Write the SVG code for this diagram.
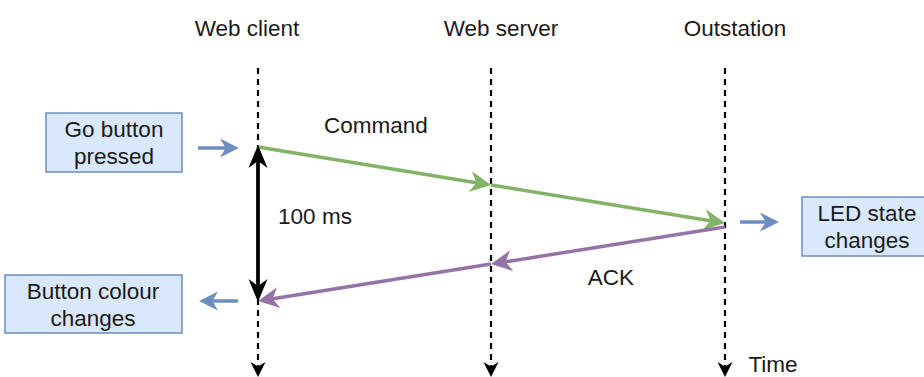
<svg xmlns="http://www.w3.org/2000/svg" width="924" height="377" viewBox="0 0 924 377">
<style>
text{font-family:"Liberation Sans",Arial,sans-serif;font-size:22.5px;fill:#1a1a1a;text-anchor:middle}
.box{fill:#dae8fc;stroke:#6c8ebf;stroke-width:1.5}
.life{stroke:#000;stroke-width:2.2;stroke-dasharray:6 5;fill:none}
.blue{stroke:#6c8ebf;stroke-width:3.5;fill:none}
</style>
<defs>
<path id="ah" d="M0,0 L-10,-5 L-7,0 L-10,5 Z"/>
</defs>
<g id="headers">
<text x="247" y="36">Web client</text>
<text x="501" y="36">Web server</text>
<text x="735" y="36">Outstation</text>
</g>
<g id="connectors">
<line class="life" x1="258" y1="68" x2="258" y2="368"/>
<line class="life" x1="491" y1="68" x2="491" y2="368"/>
<line class="life" x1="725" y1="68" x2="725" y2="368"/>
<use href="#ah" fill="#000" transform="translate(258,377) rotate(90) scale(1.5)"/>
<use href="#ah" fill="#000" transform="translate(491,377) rotate(90) scale(1.5)"/>
<use href="#ah" fill="#000" transform="translate(725,377) rotate(90) scale(1.5)"/>
<line x1="258" y1="147" x2="484" y2="184" stroke="#82b366" stroke-width="3.5"/>
<line x1="491" y1="185" x2="718" y2="222" stroke="#82b366" stroke-width="3.5"/>
<use href="#ah" fill="#82b366" transform="translate(491,185) rotate(9.26) scale(2.1)"/>
<use href="#ah" fill="#82b366" transform="translate(725,223) rotate(9.26) scale(2.1)"/>
<line x1="725" y1="227" x2="498" y2="263" stroke="#9673a6" stroke-width="3.5"/>
<line x1="491" y1="264" x2="265" y2="300" stroke="#9673a6" stroke-width="3.5"/>
<use href="#ah" fill="#9673a6" transform="translate(491,264) rotate(171) scale(2.1)"/>
<use href="#ah" fill="#9673a6" transform="translate(258,301) rotate(171) scale(2.1)"/>
<line x1="258" y1="157" x2="258" y2="290" stroke="#000" stroke-width="3.8"/>
<use href="#ah" fill="#000" transform="translate(258,145) rotate(-90) scale(2.3,1.9)"/>
<use href="#ah" fill="#000" transform="translate(258,302) rotate(90) scale(2.3,1.9)"/>
<line class="blue" x1="198" y1="148" x2="232" y2="148"/>
<use href="#ah" fill="#6c8ebf" transform="translate(239,148) scale(1.9)"/>
<line class="blue" x1="238" y1="301" x2="206" y2="301"/>
<use href="#ah" fill="#6c8ebf" transform="translate(199,301) rotate(180) scale(1.9)"/>
<line class="blue" x1="740" y1="222" x2="772" y2="222"/>
<use href="#ah" fill="#6c8ebf" transform="translate(779,222) scale(1.9)"/>
</g>
<g id="go-button">
<rect class="box" x="46" y="113" width="136" height="59"/>
<text x="114" y="137">Go button</text>
<text x="114" y="164">pressed</text>
</g>
<g id="button-colour">
<rect class="box" x="5" y="275" width="177" height="58"/>
<text x="93" y="299">Button colour</text>
<text x="93" y="326">changes</text>
</g>
<g id="led-state">
<rect class="box" x="802" y="197" width="130" height="59"/>
<text x="867" y="221">LED state</text>
<text x="867" y="248">changes</text>
</g>
<g id="labels">
<text x="773" y="372">Time</text>
<text x="376" y="133">Command</text>
<text x="315" y="224">100 ms</text>
<text x="611" y="285">ACK</text>
</g>
</svg>
